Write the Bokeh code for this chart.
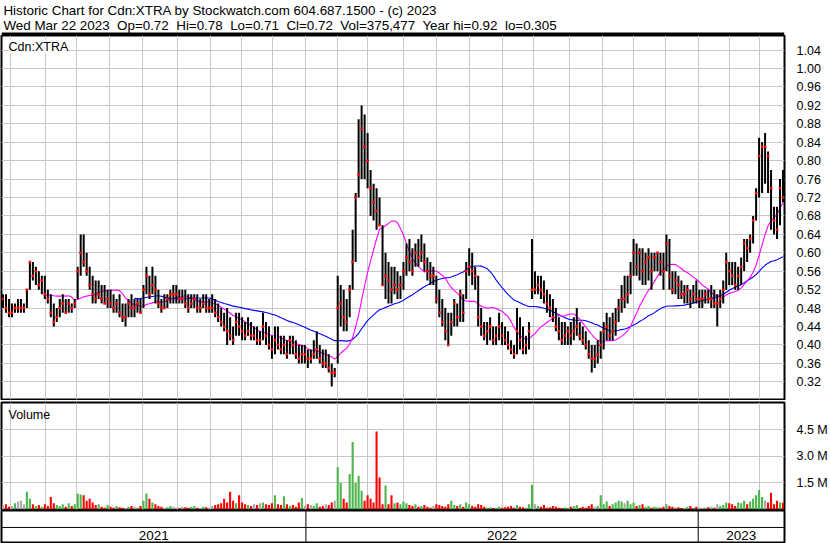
import numpy as np
import pandas as pd
from pandas.tseries.holiday import USFederalHolidayCalendar
from pandas.tseries.offsets import CustomBusinessDay
from bokeh.plotting import figure
from bokeh.models import (Range1d, FixedTicker, Label, Span, ColumnDataSource,
                          NumeralTickFormatter)
from bokeh.core.properties import value
from bokeh.layouts import column
from bokeh.embed import file_html
from bokeh.resources import INLINE

# ---------------- data (2-trading-day bars, prices in cents) ----------------
highs = [51,51,50,49,49,50,50,49,52,58,58,57,56,55,55,52,51,49,48,50,51,50,50,49,50,
         57,64,64,60,57,55,54,54,53,53,52,52,51,50,51,49,49,50,51,
         50,50,50,53,57,55,57,55,52,50,51,51,52,53,53,52,52,
         52,51,51,51,51,50,51,51,50,51,
         50,49,48,47,48,46,44,47,47,46,
         45,46,45,44,44,43,47,45,44,42,
         44,44,42,42,41,42,42,41,40,40,
         40,39,39,41,43,40,39,39,38,36,35,
         55,53,52,50,53,65,73,89,92,90,86,78,75,74,72,
         66,60,58,57,57,56,55,58,62,63,61,62,63,64,
         62,59,58,57,55,52,50,48,47,47,
         50,49,52,51,58,61,60,57,55,48,
         45,45,46,44,44,47,45,44,43,41,40,48,
         46,44,42,45,63,56,55,55,
         54,52,51,50,48,46,45,45,44,45,46,48,45,44,43,41,40,40,41,
         43,45,47,46,47,48,50,53,55,55,58,63,62,61,61,60,61,
         60,60,60,60,60,64,63,56,56,55,54,53,53,52,53,54,52,52,52,52,53,52,51,52,54,
         60,58,58,58,57,59,63,63,64,68,74,85,84,86,82,78,70,70,76,78]
lows = [48,47,46,46,47,47,47,47,48,52,54,53,52,51,50,49,46,44,45,46,47,47,47,47,48,
        50,55,57,55,52,49,49,50,49,49,48,48,47,47,46,45,44,46,46,
        46,47,47,48,51,50,51,49,48,47,48,48,49,49,49,49,49,
        48,47,48,48,47,47,48,47,47,47,
        46,45,44,43,40,41,40,42,42,41,
        41,42,41,41,40,40,41,40,39,37,
        38,39,38,38,37,38,38,37,36,36,
        36,35,36,37,37,36,35,35,34,31,33,
        36,44,43,43,46,52,58,72,76,76,74,68,67,65,66,
        53,50,49,49,51,50,50,52,55,56,55,57,57,58,
        56,54,53,53,49,46,44,41,40,42,
        44,44,45,45,50,55,53,52,44,42,
        41,40,41,40,40,41,40,40,39,38,37,38,
        39,38,38,39,50,51,51,50,
        49,47,46,45,43,41,40,40,40,40,41,42,41,40,39,37,34,35,36,
        37,39,41,41,41,42,45,47,48,49,51,55,55,54,53,53,54,
        52,56,56,55,52,56,52,51,51,50,50,49,49,48,49,49,48,48,49,49,48,48,44,48,49,
        52,53,53,52,52,53,56,58,60,62,67,72,73,75,73,65,64,63,66,71]
closes = [50,48,47,47,48,48,48,48,52,58,55,56,53,54,51,50,47,45,46,48,49,47,49,48,49,
          56,60,58,56,53,51,50,51,50,49,50,49,48,49,47,46,46,49,48,
          48,49,47,52,55,51,53,52,49,48,48,50,51,51,51,50,50,
          49,48,49,50,48,48,49,48,48,48,
          47,46,45,44,43,42,41,45,44,43,
          42,43,42,42,41,41,44,42,40,39,
          41,40,39,40,38,41,40,38,37,38,
          38,37,37,38,39,37,36,36,35,34,34,
          48,49,46,45,52,58,72,77,87,83,80,74,71,69,66,
          53,55,54,52,53,52,53,56,59,58,56,60,59,60,
          58,56,55,55,50,47,45,43,40,45,
          49,46,51,47,56,57,56,55,46,44,
          42,43,44,41,42,44,42,41,40,39,38,43,
          41,39,40,43,52,52,53,52,
          51,49,48,46,44,43,41,42,43,42,43,44,42,41,40,38,37,37,38,
          40,43,44,42,43,45,48,50,50,51,55,60,57,60,56,58,59,
          56,59,60,58,56,62,55,52,54,53,51,51,52,50,51,50,50,50,51,50,50,49,49,50,52,
          58,56,55,53,55,57,62,61,63,67,73,81,83,83,81,74,67,65,74,72]
volumes_k = [250,300,150,200,350,450,500,300,
             1000,600,300,200,250,150,300,200,
             700,350,250,200,300,150,350,200,300,
             900,850,800,500,600,400,250,300,150,100,
             250,150,100,200,120,100,80,150,200,
             150,100,200,500,900,600,400,300,200,150,100,120,200,150,100,80,150,
             120,100,150,200,100,80,150,120,100,200,
             250,300,350,600,400,1000,500,350,800,400,
             300,250,200,300,250,350,400,300,250,350,
             800,300,250,750,300,200,250,150,400,650,
             200,300,250,200,350,150,200,300,250,400,500,
             2400,1500,600,400,2000,3800,1500,1900,1050,500,800,600,400,4400,1800,
             300,1350,300,800,350,400,300,450,350,250,200,300,150,200,
             250,150,100,200,300,250,200,150,300,500,
             250,200,300,150,400,300,200,150,300,250,
             150,100,120,80,100,150,100,120,150,200,100,250,
             150,120,100,300,1400,300,200,150,
             250,100,120,200,150,100,80,120,100,150,200,250,100,150,100,200,300,150,200,
             800,300,450,200,300,400,500,450,350,500,300,400,200,250,300,150,200,
             100,150,120,100,150,300,200,150,100,120,80,100,150,200,100,150,120,80,100,120,150,100,300,200,250,
             400,350,300,200,400,350,500,300,450,600,800,1100,700,500,400,950,300,500,400,375]

first_date = "2021-03-24"
last_date = "2023-03-22"
price_ticks = [0.32, 0.36, 0.40, 0.44, 0.48, 0.52, 0.56, 0.60, 0.64, 0.68,
               0.72, 0.76, 0.80, 0.84, 0.88, 0.92, 0.96, 1.00, 1.04]
vol_ticks = [1500000, 3000000, 4500000]
vol_tick_labels = ["1.5 M", "3.0 M", "4.5 M"]
ma_short_bars = 15   # ~30 trading days
ma_long_bars = 45    # ~90 trading days
title_line1 = "Historic Chart for Cdn:XTRA by Stockwatch.com 604.687.1500 - (c) 2023"
title_line2 = ("Wed Mar 22 2023\u00a0 Op=0.72\u00a0 Hi=0.78\u00a0 Lo=0.71\u00a0 Cl=0.72\u00a0 "
               "Vol=375,477\u00a0 Year hi=0.92\u00a0 lo=0.305")
symbol_label = "Cdn:XTRA"
volume_label = "Volume"

# ---------------- derived ----------------
n = len(closes)
idx = np.arange(n)
hi = np.array(highs) / 100.0
lo = np.array(lows) / 100.0
cl = np.array(closes) / 100.0
vol = np.array(volumes_k) * 1000.0
ma_s = pd.Series(cl).rolling(ma_short_bars).mean().values
ma_l = pd.Series(cl).rolling(ma_long_bars).mean().values
chg = np.diff(np.concatenate([[cl[0]], cl]))
vcol = np.where(chg > 0, "#4cb54c", np.where(chg < 0, "#ff0000", "#a8a8a8"))

# trading days covered by the bars -> positions of month / year boundaries in bar units
tdays = pd.date_range(first_date, last_date,
                      freq=CustomBusinessDay(calendar=USFederalHolidayCalendar()))
def to_bar(ts):
    return (np.searchsorted(tdays.values, ts.values) / len(tdays) * n - 0.5).tolist()
months = pd.date_range(first_date, last_date, freq="MS")
month_pos = to_bar(months)
ystarts = pd.date_range(first_date, last_date, freq="YS")
year_pos = to_bar(ystarts)
bounds = [-0.5] + year_pos + [n - 0.5]
year_centers = [(bounds[i] + bounds[i + 1]) / 2 for i in range(len(bounds) - 1)]
year_names = [str(d.year) for d in [pd.Timestamp(first_date)] + list(ystarts)]

FONT = "Liberation Sans"
W = 830
LB, RB = 1, 42
GRID = "#c8c8c8"
PRICE_LO, PRICE_HI = 0.2816, 1.0717
VOL_HI = 6.03e6

xr = Range1d(-0.5, n - 0.5)

def base(height, yr, yaxis=True, **kw):
    f = figure(width=W, height=height, x_range=xr, y_range=yr,
               output_backend="svg", toolbar_location=None,
               x_axis_location=None, y_axis_location="right" if yaxis else None,
               min_border_left=LB, min_border_right=RB,
               background_fill_color="white", border_fill_color="white",
               outline_line_color="black", outline_line_width=2, **kw)
    return f

# ---------------- header ----------------
h = figure(width=W, height=35, x_range=Range1d(0, W), y_range=Range1d(0, 35),
           output_backend="svg", toolbar_location=None,
           x_axis_location=None, y_axis_location=None,
           min_border=0, outline_line_color=None)
h.grid.visible = False
h.add_layout(Label(x=2, y=25, text=title_line1, text_font=FONT, text_font_size="13.4px",
                   text_color="black", text_baseline="alphabetic"))
h.add_layout(Label(x=2, y=10, text=title_line2, text_font=FONT, text_font_size="13.4px",
                   text_color="black", text_baseline="alphabetic"))
h.add_layout(Span(location=1.5, dimension="width", line_color="black", line_width=3))

# ---------------- price ----------------
p = base(365, Range1d(PRICE_LO, PRICE_HI), min_border_top=0, min_border_bottom=1)
p.xgrid.ticker = FixedTicker(ticks=month_pos)
for g in (p.xgrid, p.ygrid):
    g.grid_line_color = GRID
    g.grid_line_width = 1
ax = p.yaxis[0]
ax.ticker = FixedTicker(ticks=price_ticks)
ax.formatter = NumeralTickFormatter(format="0.00")
ax.axis_line_color = None
ax.major_tick_line_color = None
ax.minor_tick_line_color = None
ax.major_label_text_font = FONT
ax.major_label_text_font_size = "12.5px"
ax.major_label_text_color = "black"
ax.major_label_standoff = 6

src = ColumnDataSource(dict(x=idx, high=hi, low=lo, close=cl, ma_s=ma_s, ma_l=ma_l))
p.line("x", "ma_l", source=src, line_color="#0000ff", line_width=1.1)
p.line("x", "ma_s", source=src, line_color="#ff00ff", line_width=1.1)
p.segment(x0="x", y0="low", x1="x", y1="high", source=src, line_color="black", line_width=2)
p.scatter("x", "close", source=src, marker="square", size=2.5,
          fill_color="#ff0000", line_color=None)
p.add_layout(Label(x=-0.5, y=PRICE_HI, text=symbol_label, text_font=FONT, text_font_size="12.5px",
                   text_color="black", text_baseline="top", x_offset=7, y_offset=-4,
                   background_fill_color="white"))

# ---------------- volume ----------------
v = base(110, Range1d(0, VOL_HI), min_border_top=2, min_border_bottom=1)
v.xgrid.ticker = FixedTicker(ticks=month_pos)
for g in (v.xgrid, v.ygrid):
    g.grid_line_color = GRID
    g.grid_line_width = 1
vax = v.yaxis[0]
vax.ticker = FixedTicker(ticks=vol_ticks)
vax.major_label_overrides = {t: s for t, s in zip(vol_ticks, vol_tick_labels)}
vax.axis_line_color = None
vax.major_tick_line_color = None
vax.minor_tick_line_color = None
vax.major_label_text_font = FONT
vax.major_label_text_font_size = "12.5px"
vax.major_label_text_color = "black"
vax.major_label_standoff = 6
vsrc = ColumnDataSource(dict(x=idx, vol=vol, color=vcol))
v.vbar(x="x", top="vol", width=0.7, source=vsrc, fill_color="color", line_color=None)
v.add_layout(Label(x=-0.5, y=VOL_HI, text=volume_label, text_font=FONT, text_font_size="12.5px",
                   text_color="black", text_baseline="top", x_offset=7, y_offset=-5))

# ---------------- date axis ----------------
a = base(33, Range1d(0, 2), yaxis=False, min_border_top=0, min_border_bottom=1)
a.grid.visible = False
a.add_layout(Span(location=0.94, dimension="width", line_color="black", line_width=1))
for yp in year_pos:
    a.add_layout(Span(location=yp, dimension="height", line_color="black", line_width=1))
a.text(x=year_centers, y=[0.44] * len(year_centers), text=year_names,
       text_font=value(FONT), text_font_size="13.5px", text_color="black",
       text_align="center", text_baseline="middle")

layout = column(h, p, v, a, spacing=0)
open("out.html", "w").write(file_html(layout, INLINE))
